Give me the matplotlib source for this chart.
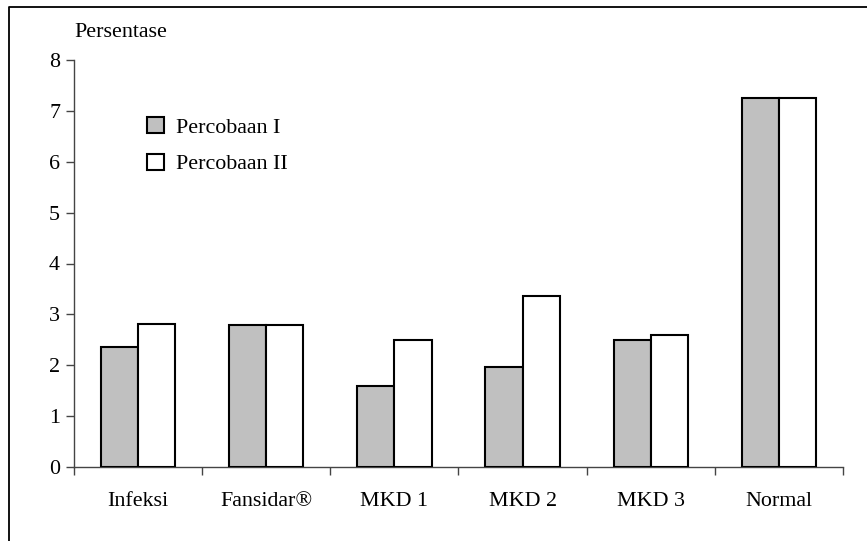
import matplotlib.pyplot as plt
import numpy as np
from matplotlib.lines import Line2D

categories = ["Infeksi", "Fansidar®", "MKD 1", "MKD 2", "MKD 3", "Normal"]
percobaan_1 = [2.36, 2.80, 1.60, 1.96, 2.50, 7.25]
percobaan_2 = [2.82, 2.80, 2.50, 3.36, 2.59, 7.25]
series_labels = ["Percobaan I", "Percobaan II"]

plt.rcParams["font.family"] = ["Liberation Serif", "DejaVu Serif"]
FS = 15.8

fig = plt.figure(figsize=(8.67, 5.41), dpi=100)
ax = fig.add_axes([74 / 867, 1 - 467 / 541, (843 - 74) / 867, (467 - 60) / 541])

x = np.arange(len(categories))
w = 0.29
ax.bar(x - w / 2, percobaan_1, w, color="#c0c0c0", edgecolor="black",
       linewidth=1.5, label=series_labels[0], zorder=3)
ax.bar(x + w / 2, percobaan_2, w, color="white", edgecolor="black",
       linewidth=1.5, label=series_labels[1], zorder=3)

ax.set_xlim(-0.5, len(categories) - 0.5)
ax.set_ylim(0, 8)
ax.set_yticks(range(0, 9))
ax.set_xticks(x)
ax.set_xticklabels(categories, fontsize=FS)
ax.set_xticks(np.arange(-0.5, len(categories)), minor=True)
ax.tick_params(axis="x", which="major", length=0, pad=18)
ax.tick_params(axis="x", which="minor", length=6, width=1, color="#444444")
ax.tick_params(axis="y", length=6, width=1, color="#444444", labelsize=FS, pad=4)
for s in ("top", "right"):
    ax.spines[s].set_visible(False)
for s in ("left", "bottom"):
    ax.spines[s].set_color("#444444")
    ax.spines[s].set_linewidth(1)

ax.text(0.001, 1.045, "Persentase", transform=ax.transAxes, fontsize=FS,
        ha="left", va="bottom")

ax.legend(loc="upper left", bbox_to_anchor=(0.095, 0.86), frameon=False,
          fontsize=FS, handlelength=0.77, handleheight=0.77,
          handletextpad=0.55, labelspacing=0.72, borderpad=0, borderaxespad=0)

# outer frame (top and left edges visible)
fig.add_artist(Line2D([9 / 867, 9 / 867, 1.0], [0.0, 1 - 7 / 541, 1 - 7 / 541],
                      transform=fig.transFigure, color="black", linewidth=1.3))

fig.savefig("out.png", dpi=100)
